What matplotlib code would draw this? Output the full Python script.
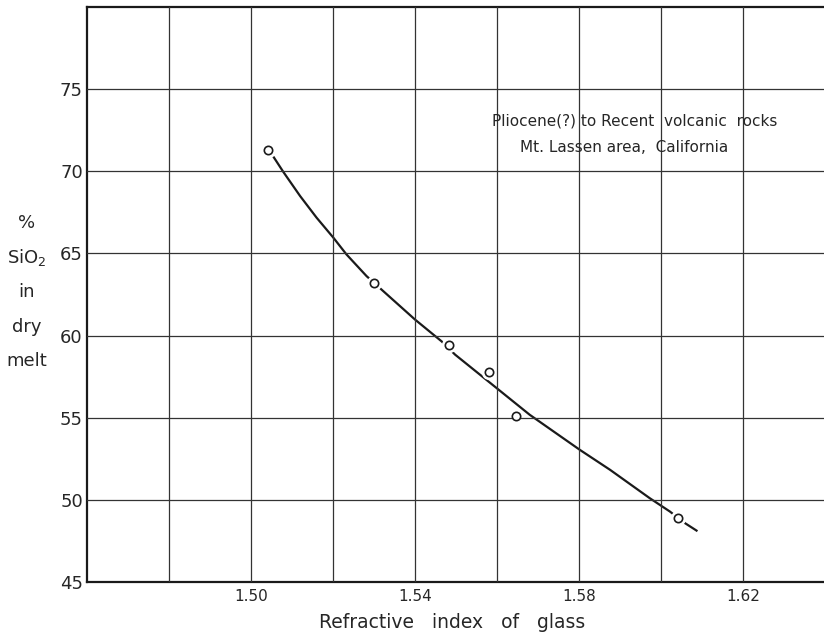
import matplotlib
matplotlib.use('Agg')
import matplotlib.pyplot as plt

# measured samples (open circles)
ri_glass = [1.5041, 1.5300, 1.5482, 1.5580, 1.5646, 1.6041]
sio2_pct = [71.3, 63.2, 59.4, 57.8, 55.1, 48.9]

# hand-drawn trend curve
curve_x = [1.5056, 1.5079, 1.5120, 1.5160, 1.5201, 1.5233, 1.5282, 1.5323,
           1.5400, 1.5465, 1.5498, 1.5599, 1.5680, 1.5802, 1.5876, 1.5973,
           1.6022, 1.6059, 1.6087]
curve_y = [70.84, 69.96, 68.49, 67.18, 65.96, 64.94, 63.62, 62.70,
           60.98, 59.65, 58.84, 56.81, 55.18, 53.05, 51.83, 50.10,
           49.29, 48.58, 48.13]

xticks = [1.50, 1.54, 1.58, 1.62]
xtick_labels = ['1.50', '1.54', '1.58', '1.62']
yticks = [45, 50, 55, 60, 65, 70, 75]
ylabel_lines = ['%', 'SiO$_2$', 'in', 'dry', 'melt']

ink = '#262626'
plt.rcParams['font.family'] = 'DejaVu Sans'

fig = plt.figure(figsize=(8.24, 6.38), dpi=100, facecolor='white')
ax = fig.add_axes([87 / 824, 1 - 582 / 638, 1 - 87 / 824, (582 - 7) / 638])

ax.set_xlim(1.46, 1.6398)
ax.set_ylim(45, 80)

# grid every 0.02 / 5 units, above the halo so only the curve gets cut
for gx in [1.48, 1.50, 1.52, 1.54, 1.56, 1.58, 1.60, 1.62]:
    ax.axvline(gx, color='#333333', lw=0.9, zorder=3.5)
for gy in [50, 55, 60, 65, 70, 75]:
    ax.axhline(gy, color='#333333', lw=0.9, zorder=3.5)

ax.plot(curve_x, curve_y, color='#1a1a1a', lw=1.6, zorder=2,
        solid_joinstyle='round')
# white halo to break the curve around the circles
ax.plot(ri_glass, sio2_pct, ls='none', marker='o', ms=10, mfc='white',
        mec='white', zorder=3)
ax.plot(ri_glass, sio2_pct, ls='none', marker='o', ms=6, mfc='white',
        mec='#1a1a1a', mew=1.2, zorder=4)

for side in ['left', 'bottom', 'top']:
    ax.spines[side].set_linewidth(1.6)
    ax.spines[side].set_color('#1a1a1a')
ax.spines['right'].set_visible(False)

ax.set_xticks(xticks)
ax.set_xticklabels(xtick_labels)
ax.set_yticks(yticks)
ax.tick_params(axis='x', length=0, pad=5, labelsize=11, labelcolor=ink)
ax.tick_params(axis='y', length=0, pad=3, labelsize=13, labelcolor=ink)

fig.text(452 / 824, 1 - 622 / 638, 'Refractive   index   of   glass',
         ha='center', va='center', fontsize=13.5, color=ink)

for i, line in enumerate(ylabel_lines):
    fig.text(27 / 824, 1 - (223 + 34.5 * i) / 638, line, ha='center',
             va='center', fontsize=13, color=ink)

ax.text(1.5937, 73.05, 'Pliocene(?) to Recent  volcanic  rocks', ha='center',
        va='center', fontsize=11, color=ink, zorder=5)
ax.text(1.5910, 71.45, 'Mt. Lassen area,  California', ha='center',
        va='center', fontsize=11, color=ink, zorder=5)

fig.savefig('out.png', dpi=100, facecolor='white')
